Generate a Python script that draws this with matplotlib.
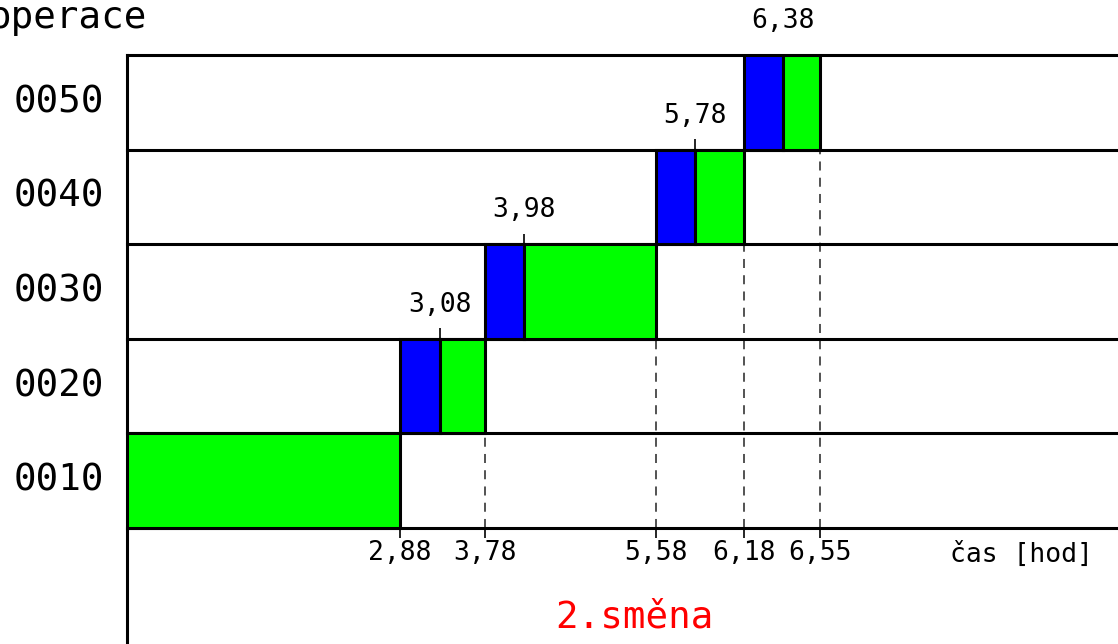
import matplotlib
matplotlib.use("Agg")
import matplotlib.pyplot as plt
import numpy as np

# operace (odspodu nahoru)
operace = ['0010', '0020', '0030', '0040', '0050']
# casy v hodinach
modra_zacatek = [None, 2.88, 3.78, 5.58, 6.18]
modra_konec = [None, 3.08, 3.98, 5.78, 6.38]
zelena_zacatek = [0.0, 3.08, 3.98, 5.78, 6.38]
zelena_konec = [2.88, 3.78, 5.58, 6.18, 6.55]
konec_smeny = 8.0

# schematicke meritko osy x (cas -> pozice), diagram neni linearni
cas_uzly = [0.0, 2.88, 3.08, 3.78, 3.98, 5.58, 5.78, 6.18, 6.38, 6.55, konec_smeny]
poz_uzly = [0, 273, 313, 358, 397, 529, 568, 617, 656, 693, 991]

def dopredu(t):
    return np.interp(t, cas_uzly, poz_uzly)

def zpet(p):
    return np.interp(p, poz_uzly, cas_uzly)

W, H = 1118, 644
fig = plt.figure(figsize=(W / 100, H / 100), dpi=100)
ax = fig.add_axes([127 / W, 0, 991 / W, (H - 55) / H])
ax.set_xscale('function', functions=(dopredu, zpet))
ax.set_xlim(0, konec_smeny)
ax.set_ylim(-(H - 528) / 94.6, 5)

mono = 'DejaVu Sans Mono'
lw = 2.2

# vodorovne cary radku
for i in range(len(operace) + 1):
    ax.axhline(i, color='black', lw=lw, clip_on=False, zorder=3)

# bloky operaci
for i in range(len(operace)):
    if modra_zacatek[i] is not None:
        ax.barh(i + 0.5, modra_konec[i] - modra_zacatek[i], left=modra_zacatek[i],
                height=1, color='#0000ff', edgecolor='black', lw=lw, zorder=4)
        # hodnota nad modrym blokem
        ax.vlines(modra_konec[i], i + 1, i + 1.11, color='black', lw=1.2)
        ax.text(modra_konec[i], i + 1.36, f"{modra_konec[i]:.2f}".replace('.', ','),
                ha='center', va='center', fontsize=19, family=mono)
    ax.barh(i + 0.5, zelena_konec[i] - zelena_zacatek[i], left=zelena_zacatek[i],
            height=1, color='#00ff00', edgecolor='black', lw=lw, zorder=4)
    # svisla prerusovana cara dolu k ose
    if i > 0:
        ax.vlines(zelena_konec[i], 0, i, color='#444444', lw=1.3,
                  linestyles=(0, (5, 4)), zorder=2)
    ax.vlines(zelena_konec[i], -0.11, 0, color='black', lw=1.2)
    ax.text(zelena_konec[i], -0.26, f"{zelena_konec[i]:.2f}".replace('.', ','),
            ha='center', va='center', fontsize=19, family=mono)

for s in ['top', 'right', 'bottom']:
    ax.spines[s].set_visible(False)
ax.spines['left'].set_linewidth(lw)
ax.spines['left'].set_bounds(ax.get_ylim()[0], 5)
ax.set_xticks([])
ax.set_yticks([])

# popisky radku
for i, op in enumerate(operace):
    y = 1 - (528 - 94.6 * (i + 0.5)) / H
    fig.text(59 / W, y, op, ha='center', va='center', fontsize=27, family=mono)

fig.text(147 / W, 1 - 28 / H, 'operace', ha='right', va='baseline', fontsize=27, family=mono)
fig.text(1021 / W, 1 - 555 / H, 'čas [hod]', ha='center', va='center', fontsize=19, family=mono)
fig.text(634 / W, 1 - 617 / H, '2.směna', ha='center', va='center', fontsize=27,
         family=mono, color='#ff0000')

fig.savefig('out.png', dpi=100)
